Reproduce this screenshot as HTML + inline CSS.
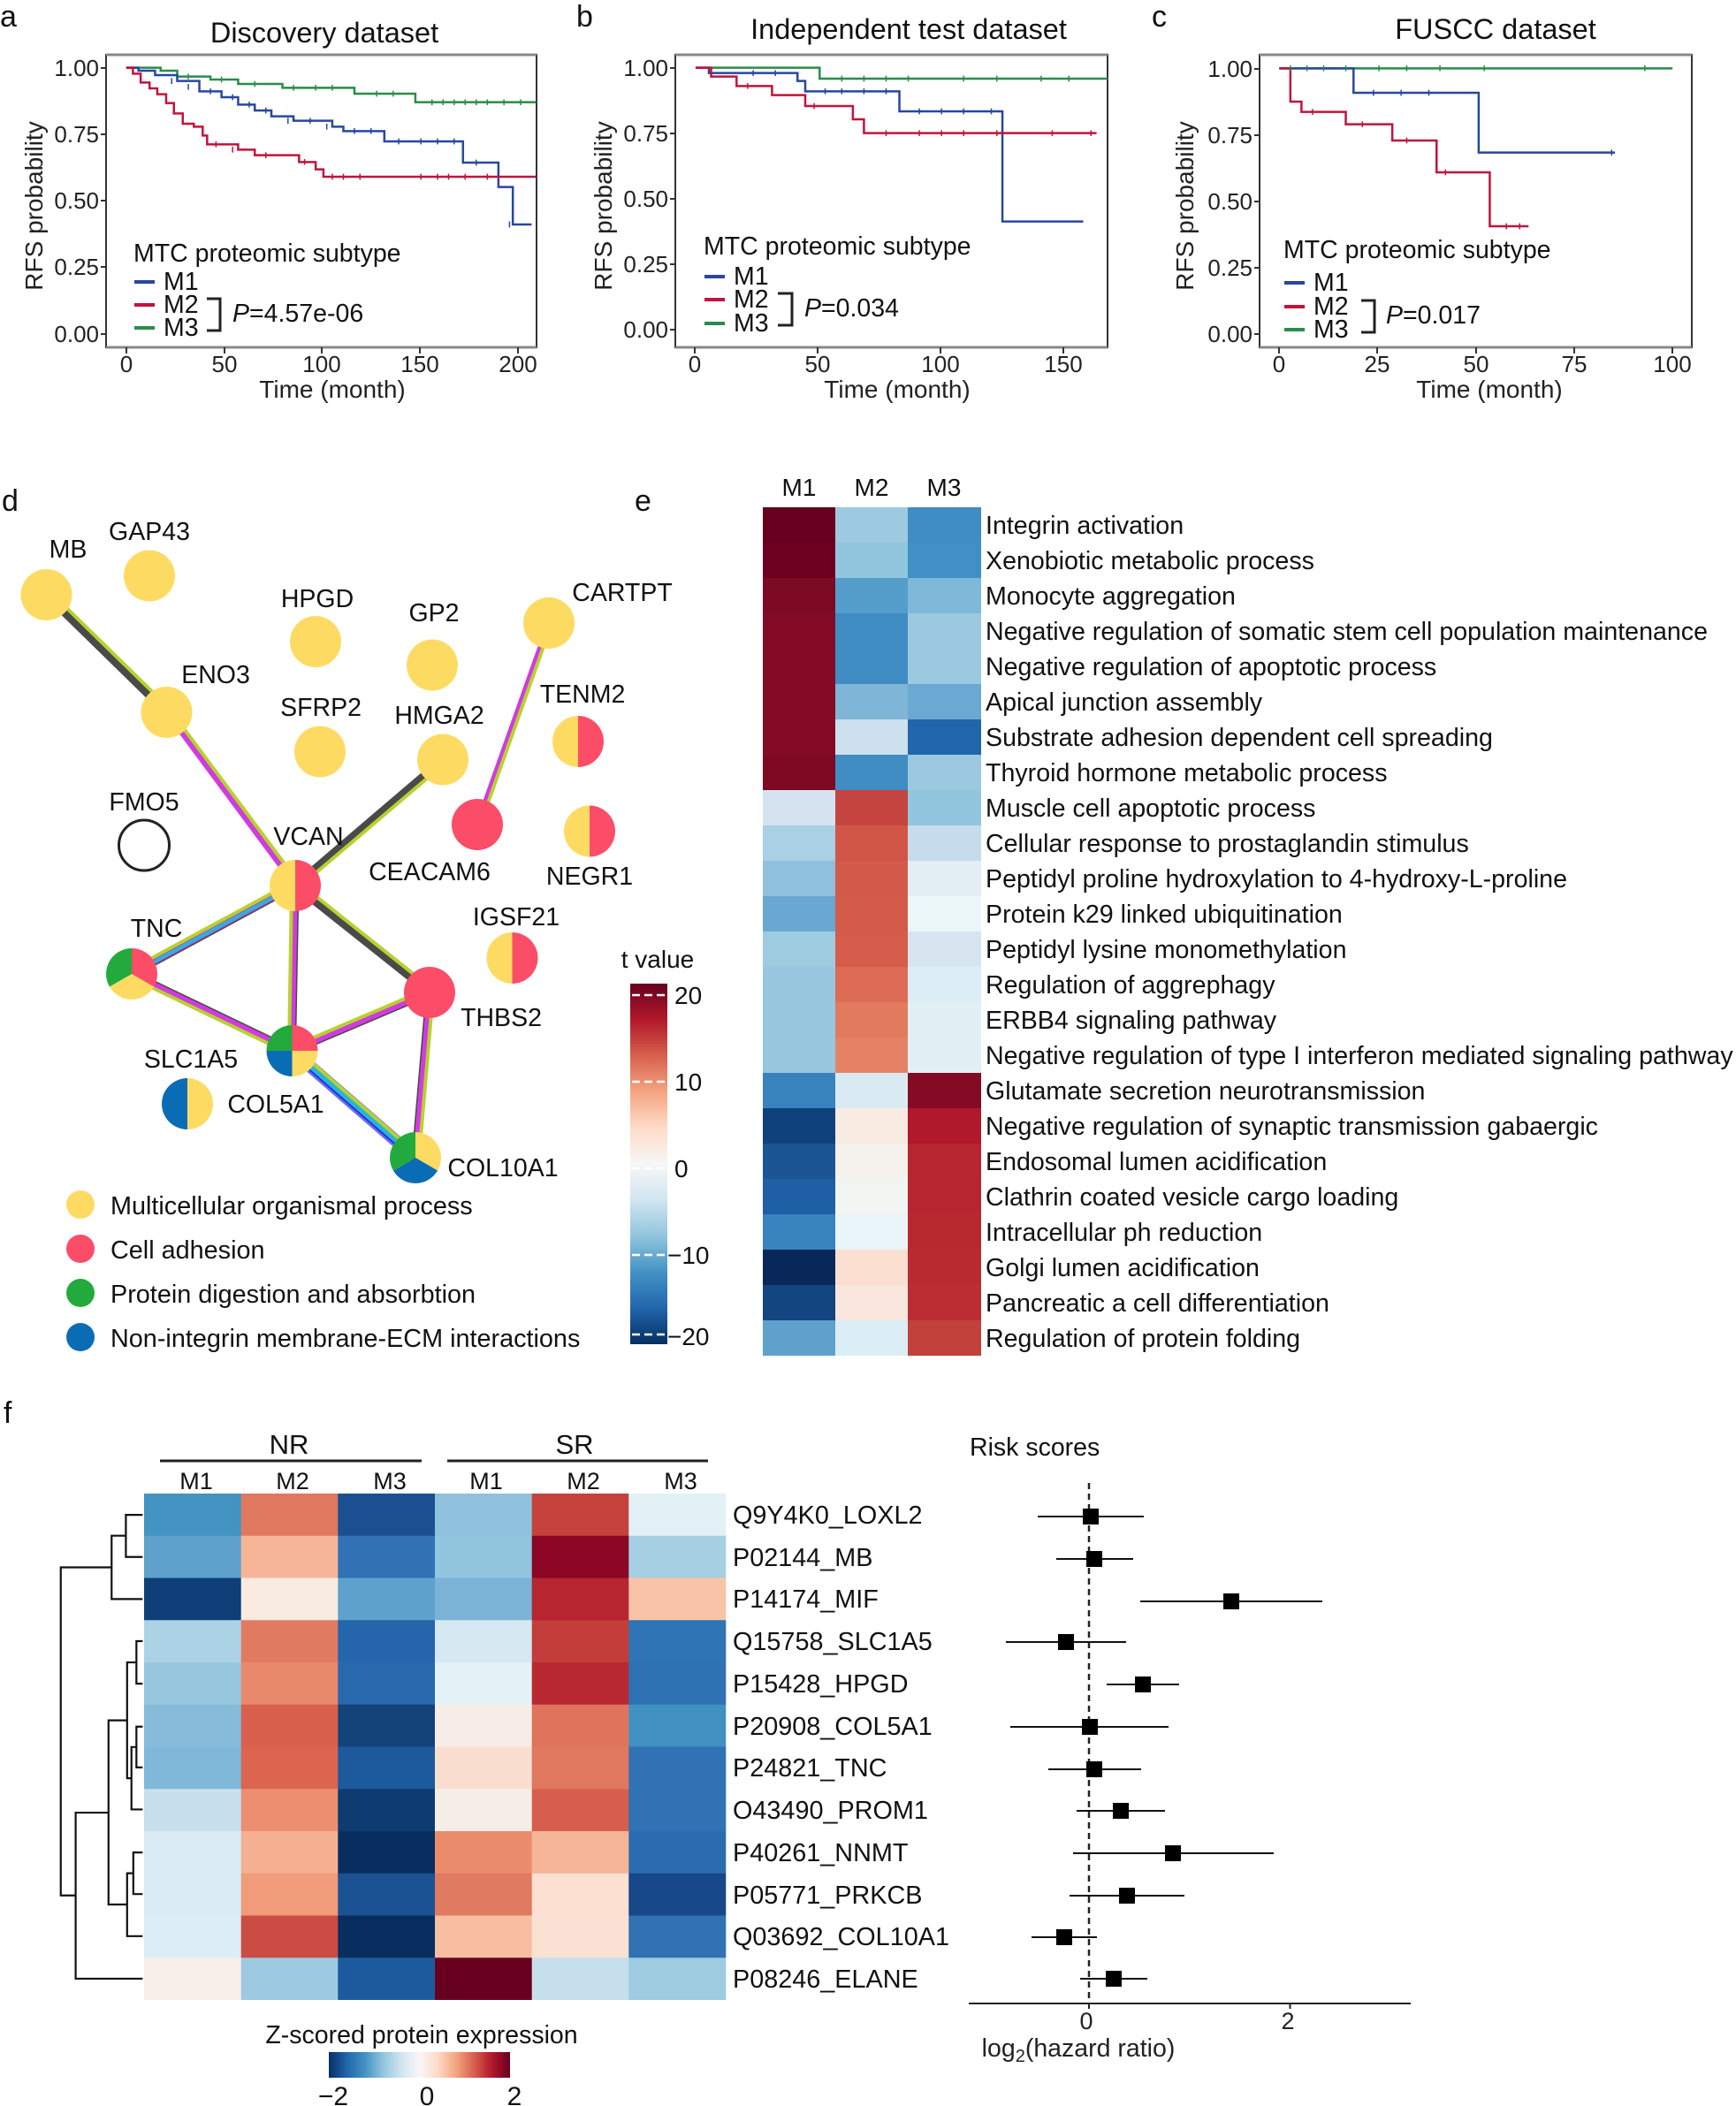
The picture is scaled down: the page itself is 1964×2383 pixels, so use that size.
<!DOCTYPE html>
<html><head><meta charset="utf-8">
<style>
html,body{margin:0;padding:0;background:#fff;}
svg{display:block;font-family:"Liberation Sans",Arial,sans-serif;}
</style></head>
<body>
<svg width="1964" height="2383" viewBox="0 0 1964 2383" xmlns="http://www.w3.org/2000/svg">
<rect width="1964" height="2383" fill="#fff"/>

<!-- ================= KM PANELS ================= -->
<g font-size="34" fill="#111">
<text x="0" y="30">a</text>
<text x="652" y="30">b</text>
<text x="1303" y="30">c</text>
</g>
<g font-size="32.5" text-anchor="middle" fill="#111">
<text x="367" y="48">Discovery dataset</text>
<text x="1028" y="44">Independent test dataset</text>
<text x="1692" y="44">FUSCC dataset</text>
</g>

<g fill="none" stroke="#333" stroke-width="2">
<rect x="120" y="62" width="487" height="331"/>
<rect x="764" y="62" width="489" height="331"/>
<rect x="1425" y="62" width="489" height="331"/>
</g>
<g stroke="#888" stroke-width="3">
<line x1="120" y1="62" x2="607" y2="62"/><line x1="120" y1="393" x2="607" y2="393"/>
<line x1="764" y1="62" x2="1253" y2="62"/><line x1="764" y1="393" x2="1253" y2="393"/>
<line x1="1425" y1="62" x2="1914" y2="62"/><line x1="1425" y1="393" x2="1914" y2="393"/>
</g>

<g transform="scale(1.2531,0.33333)" fill="none" stroke-width="2.5">
<path vector-effect="non-scaling-stroke" stroke="#2a8c4a" d="M114,230 H145 V240 H160 V260 H190 V270 H215 V285 H255 V298 H320 V318 H375 V347 H484"/>
<path vector-effect="non-scaling-stroke" stroke="#2747a0" d="M114,230 H125 V240 H140 V255 H160 V275 H180 V310 H200 V330 H215 V355 H230 V375 H245 V395 H265 V410 H300 V430 H310 V445 H347 V480 H418 V552 H450 V635 H463 V762 H480"/>
<path vector-effect="non-scaling-stroke" stroke="#c0143c" d="M114,230 H120 V250 H127 V280 H135 V300 H142 V320 H150 V350 H157 V385 H165 V420 H175 V430 H183 V460 H187 V490 H215 V508 H230 V527 H270 V550 H285 V575 H292 V600 H484"/>

<path vector-effect="non-scaling-stroke" stroke="#2a8c4a" d="M628,230 H740 V267 H1000"/>
<path vector-effect="non-scaling-stroke" stroke="#2747a0" d="M628,230 H640 V248 H720 V275 H727 V310 H812 V378 H905 V752 H978"/>
<path vector-effect="non-scaling-stroke" stroke="#c0143c" d="M628,230 H642 V260 H665 V292 H697 V323 H727 V360 H770 V405 H780 V452 H990"/>

<path vector-effect="non-scaling-stroke" stroke="#2a8c4a" d="M1155,232 H1510"/>
<path vector-effect="non-scaling-stroke" stroke="#2747a0" d="M1155,232 H1222 V315 H1335 V518 H1458"/>
<path vector-effect="non-scaling-stroke" stroke="#c0143c" d="M1155,232 H1165 V345 H1175 V380 H1215 V422 H1257 V477 H1297 V585 H1345 V768 H1380"/>

<g stroke="#2a8c4a" stroke-width="1.5">
<path vector-effect="non-scaling-stroke" d="M170,250v20M200,260v20M230,275v20M265,288v20M285,288v20M300,288v20M340,308v20M355,308v20M390,337v20M400,337v20M410,337v20M420,337v20M430,337v20M440,337v20M455,337v20M470,337v20"/>
<path vector-effect="non-scaling-stroke" d="M760,257v20M780,257v20M800,257v20M820,257v20M870,257v20M900,257v20M940,257v20M965,257v20"/>
<path vector-effect="non-scaling-stroke" d="M1165,222v20M1180,222v20M1195,222v20M1215,222v20M1245,222v20M1270,222v20M1300,222v20M1340,222v20M1485,222v20"/>
</g>
<g stroke="#2747a0" stroke-width="1.5">
<path vector-effect="non-scaling-stroke" d="M155,265v20M170,285v20M190,300v20M210,320v20M225,345v20M240,365v20M260,400v20M280,400v20M295,420v20M320,435v20M335,435v20M360,470v20M380,470v20M395,470v20M410,470v20M430,542v20M460,752v20"/>
<path vector-effect="non-scaling-stroke" d="M680,238v20M700,238v20M745,300v20M760,300v20M780,300v20M800,300v20M830,368v20M850,368v20M870,368v20M895,368v20"/>
<path vector-effect="non-scaling-stroke" d="M1240,305v20M1265,305v20M1290,305v20M1455,508v20"/>
</g>
<g stroke="#c0143c" stroke-width="1.5">
<path vector-effect="non-scaling-stroke" d="M195,480v20M210,498v20M240,517v20M275,540v20M300,590v20M310,590v20M325,590v20M380,590v20M395,590v20M405,590v20M420,590v20M440,590v20"/>
<path vector-effect="non-scaling-stroke" d="M675,282v20M735,350v20M800,442v20M830,442v20M850,442v20M870,442v20M900,442v20M950,442v20M985,442v20"/>
<path vector-effect="non-scaling-stroke" d="M1185,370v20M1230,412v20M1270,467v20M1305,575v20M1360,758v20M1372,758v20"/>
</g>
</g>

<g stroke="#333" stroke-width="2">
<path d="M114,77H120M114,152H120M114,227H120M114,302H120M114,378H120"/>
<path d="M758,77H764M758,151H764M758,225H764M758,299H764M758,373H764"/>
<path d="M1419,78H1425M1419,153H1425M1419,228H1425M1419,303H1425M1419,378H1425"/>
<path d="M143,393V400M254,393V400M364,393V400M475,393V400M586,393V400"/>
<path d="M786,393V400M925,393V400M1064,393V400M1203,393V400"/>
<path d="M1447,393V400M1558,393V400M1670,393V400M1781,393V400M1892,393V400"/>
</g>
<g font-size="26" fill="#222" text-anchor="end">
<text x="112" y="86">1.00</text><text x="112" y="161">0.75</text><text x="112" y="236">0.50</text><text x="112" y="311">0.25</text><text x="112" y="387">0.00</text>
<text x="756" y="86">1.00</text><text x="756" y="160">0.75</text><text x="756" y="234">0.50</text><text x="756" y="308">0.25</text><text x="756" y="382">0.00</text>
<text x="1417" y="87">1.00</text><text x="1417" y="162">0.75</text><text x="1417" y="237">0.50</text><text x="1417" y="312">0.25</text><text x="1417" y="387">0.00</text>
</g>
<g font-size="26" fill="#222" text-anchor="middle">
<text x="143" y="421">0</text><text x="254" y="421">50</text><text x="364" y="421">100</text><text x="475" y="421">150</text><text x="586" y="421">200</text>
<text x="786" y="421">0</text><text x="925" y="421">50</text><text x="1064" y="421">100</text><text x="1203" y="421">150</text>
<text x="1447" y="421">0</text><text x="1558" y="421">25</text><text x="1670" y="421">50</text><text x="1781" y="421">75</text><text x="1892" y="421">100</text>
</g>
<g font-size="28" fill="#222" text-anchor="middle">
<text x="376" y="450">Time (month)</text><text x="1015" y="450">Time (month)</text><text x="1685" y="450">Time (month)</text>
<text transform="translate(48,233) rotate(-90)">RFS probability</text>
<text transform="translate(692,233) rotate(-90)">RFS probability</text>
<text transform="translate(1350,233) rotate(-90)">RFS probability</text>
</g>

<g font-size="28.5" fill="#111">
<text x="151" y="296">MTC proteomic subtype</text>
<text x="185" y="328">M1</text><text x="185" y="354">M2</text><text x="185" y="380">M3</text>
<text x="263" y="364"><tspan font-style="italic">P</tspan>=4.57e-06</text>
<text x="796" y="288">MTC proteomic subtype</text>
<text x="830" y="322">M1</text><text x="830" y="348">M2</text><text x="830" y="375">M3</text>
<text x="910" y="358"><tspan font-style="italic">P</tspan>=0.034</text>
<text x="1452" y="292">MTC proteomic subtype</text>
<text x="1486" y="329">M1</text><text x="1486" y="356">M2</text><text x="1486" y="382">M3</text>
<text x="1568" y="366"><tspan font-style="italic">P</tspan>=0.017</text>
</g>
<g stroke-width="4">
<line x1="152" y1="319" x2="175" y2="319" stroke="#2747a0"/><line x1="152" y1="345" x2="175" y2="345" stroke="#c0143c"/><line x1="152" y1="371" x2="175" y2="371" stroke="#2a8c4a"/>
<line x1="797" y1="313" x2="820" y2="313" stroke="#2747a0"/><line x1="797" y1="339" x2="820" y2="339" stroke="#c0143c"/><line x1="797" y1="366" x2="820" y2="366" stroke="#2a8c4a"/>
<line x1="1453" y1="320" x2="1476" y2="320" stroke="#2747a0"/><line x1="1453" y1="347" x2="1476" y2="347" stroke="#c0143c"/><line x1="1453" y1="373" x2="1476" y2="373" stroke="#2a8c4a"/>
</g>
<g fill="none" stroke="#222" stroke-width="3">
<path d="M234,338H249V374H234"/>
<path d="M880,332H896V368H880"/>
<path d="M1540,340H1555V376H1540"/>
</g>

<!-- ================= PANEL D ================= -->
<text x="2" y="578" font-size="34" fill="#111">d</text>
<text x="718" y="578" font-size="34" fill="#111">e</text>

<g stroke-linecap="round">
<g stroke="#4a4a4a" stroke-width="9">
<line x1="52.5" y1="673" x2="188.5" y2="806"/>
<line x1="501" y1="859.5" x2="334" y2="1002"/>
<line x1="334" y1="1002" x2="149" y2="1102"/>
<line x1="334" y1="1002" x2="330.5" y2="1189"/>
<line x1="334" y1="1002" x2="486" y2="1123"/>
<line x1="149" y1="1102" x2="330.5" y2="1189"/>
<line x1="330.5" y1="1189" x2="486" y2="1123"/>
<line x1="486" y1="1123" x2="470" y2="1310"/>
</g>
<line x1="330.5" y1="1189" x2="470" y2="1310" stroke="#6e6ef0" stroke-width="14"/>
<line x1="330.5" y1="1189" x2="470" y2="1310" stroke="#2233dd" stroke-width="9"/>
<line x1="330.5" y1="1189" x2="470" y2="1310" stroke="#28b4d8" stroke-width="5"/>
<g stroke="#d03be0" stroke-width="6">
<line x1="188.5" y1="806" x2="334" y2="1002"/>
<line x1="621" y1="705" x2="540" y2="933"/>
<line x1="334" y1="1002" x2="149" y2="1102"/>
<line x1="334" y1="1002" x2="330.5" y2="1189"/>
<line x1="149" y1="1102" x2="330.5" y2="1189"/>
<line x1="330.5" y1="1189" x2="486" y2="1123"/>
<line x1="486" y1="1123" x2="470" y2="1310"/>
</g>
<line x1="334" y1="1002" x2="149" y2="1102" stroke="#28b4d8" stroke-width="4"/>
<g stroke="#b8d12e" stroke-width="4">
<line x1="56" y1="669" x2="192" y2="802"/>
<line x1="192" y1="803" x2="338" y2="999"/>
<line x1="504" y1="863" x2="337" y2="1005"/>
<line x1="624" y1="706" x2="543" y2="934"/>
<line x1="331" y1="998" x2="146" y2="1098"/>
<line x1="330" y1="1002" x2="327" y2="1189"/>
<line x1="337" y1="998" x2="489" y2="1119"/>
<line x1="148" y1="1106" x2="329" y2="1193"/>
<line x1="329" y1="1185" x2="484" y2="1119"/>
<line x1="490" y1="1123" x2="474" y2="1310"/>
<line x1="334" y1="1186" x2="473" y2="1307"/>
</g>
</g>

<g fill="#fddb63">
<circle cx="52.5" cy="673" r="29"/>
<circle cx="169" cy="651.5" r="29"/>
<circle cx="357" cy="726" r="29"/>
<circle cx="489" cy="752.5" r="29"/>
<circle cx="621" cy="705" r="29"/>
<circle cx="188.5" cy="806" r="29"/>
<circle cx="362" cy="850.5" r="29"/>
<circle cx="501" cy="859.5" r="29"/>
</g>
<circle cx="163" cy="956.5" r="28.5" fill="none" stroke="#222" stroke-width="3"/>
<circle cx="540" cy="933" r="29" fill="#fc4d68"/>
<circle cx="486" cy="1123" r="29" fill="#fc4d68"/>
<g>
<path d="M654,810 A29,29 0 0 0 654,868 Z" fill="#fddb63"/><path d="M654,810 A29,29 0 0 1 654,868 Z" fill="#fc4d68"/>
<path d="M667,911.5 A29,29 0 0 0 667,969.5 Z" fill="#fddb63"/><path d="M667,911.5 A29,29 0 0 1 667,969.5 Z" fill="#fc4d68"/>
<path d="M579.5,1055 A29,29 0 0 0 579.5,1113 Z" fill="#fddb63"/><path d="M579.5,1055 A29,29 0 0 1 579.5,1113 Z" fill="#fc4d68"/>
<path d="M334,973 A29,29 0 0 0 334,1031 Z" fill="#fddb63"/><path d="M334,973 A29,29 0 0 1 334,1031 Z" fill="#fc4d68"/>
<path d="M212,1220 A29,29 0 0 0 212,1278 Z" fill="#0b6cb6"/><path d="M212,1220 A29,29 0 0 1 212,1278 Z" fill="#fddb63"/>
</g>
<path d="M149,1102 L149,1073 A29,29 0 0 1 174.1,1116.5 Z" fill="#fc4d68"/>
<path d="M149,1102 L174.1,1116.5 A29,29 0 0 1 123.9,1116.5 Z" fill="#fddb63"/>
<path d="M149,1102 L123.9,1116.5 A29,29 0 0 1 149,1073 Z" fill="#22ab3c"/>
<path d="M470,1310 L470,1281 A29,29 0 0 1 495.1,1324.5 Z" fill="#fddb63"/>
<path d="M470,1310 L495.1,1324.5 A29,29 0 0 1 444.9,1324.5 Z" fill="#0b6cb6"/>
<path d="M470,1310 L444.9,1324.5 A29,29 0 0 1 470,1281 Z" fill="#22ab3c"/>
<path d="M330.5,1189 L301.5,1189 A29,29 0 0 1 330.5,1160 Z" fill="#22ab3c"/>
<path d="M330.5,1189 L330.5,1160 A29,29 0 0 1 359.5,1189 Z" fill="#fc4d68"/>
<path d="M330.5,1189 L359.5,1189 A29,29 0 0 1 330.5,1218 Z" fill="#fddb63"/>
<path d="M330.5,1189 L330.5,1218 A29,29 0 0 1 301.5,1189 Z" fill="#0b6cb6"/>

<g font-size="28.5" fill="#111" text-anchor="middle">
<text x="77" y="631">MB</text>
<text x="169" y="611">GAP43</text>
<text x="359" y="687">HPGD</text>
<text x="491" y="703">GP2</text>
<text x="704" y="680">CARTPT</text>
<text x="244" y="773">ENO3</text>
<text x="363" y="810">SFRP2</text>
<text x="497" y="819">HMGA2</text>
<text x="659" y="795">TENM2</text>
<text x="163" y="917">FMO5</text>
<text x="486" y="996">CEACAM6</text>
<text x="667" y="1001">NEGR1</text>
<text x="349" y="956">VCAN</text>
<text x="584" y="1047">IGSF21</text>
<text x="177" y="1060">TNC</text>
<text x="567" y="1161">THBS2</text>
<text x="216" y="1208">SLC1A5</text>
<text x="312" y="1259">COL5A1</text>
<text x="569" y="1331">COL10A1</text>
</g>

<circle cx="91" cy="1363" r="16" fill="#fddb63"/>
<circle cx="91" cy="1413" r="16" fill="#fc4d68"/>
<circle cx="91" cy="1463" r="16" fill="#22ab3c"/>
<circle cx="91" cy="1513" r="16" fill="#0b6cb6"/>
<g font-size="28.8" fill="#111">
<text x="125" y="1374">Multicellular organismal process</text>
<text x="125" y="1424">Cell adhesion</text>
<text x="125" y="1474">Protein digestion and absorbtion</text>
<text x="125" y="1524">Non-integrin membrane-ECM interactions</text>
</g>

<defs>
<linearGradient id="rdbuV" x1="0" y1="0" x2="0" y2="1">
<stop offset="0" stop-color="#67001f"/><stop offset="0.1" stop-color="#b2182b"/><stop offset="0.2" stop-color="#d6604d"/><stop offset="0.3" stop-color="#f4a582"/><stop offset="0.4" stop-color="#fddbc7"/><stop offset="0.5" stop-color="#f7f7f7"/><stop offset="0.6" stop-color="#d1e5f0"/><stop offset="0.7" stop-color="#92c5de"/><stop offset="0.8" stop-color="#4393c3"/><stop offset="0.9" stop-color="#2166ac"/><stop offset="1" stop-color="#053061"/>
</linearGradient>
<linearGradient id="rdbuH" x1="0" y1="0" x2="1" y2="0">
<stop offset="0" stop-color="#053061"/><stop offset="0.1" stop-color="#2166ac"/><stop offset="0.2" stop-color="#4393c3"/><stop offset="0.3" stop-color="#92c5de"/><stop offset="0.4" stop-color="#d1e5f0"/><stop offset="0.5" stop-color="#f7f7f7"/><stop offset="0.6" stop-color="#fddbc7"/><stop offset="0.7" stop-color="#f4a582"/><stop offset="0.8" stop-color="#d6604d"/><stop offset="0.9" stop-color="#b2182b"/><stop offset="1" stop-color="#67001f"/>
</linearGradient>
</defs>
<text x="744" y="1095" font-size="28" text-anchor="middle" fill="#111">t value</text>
<rect x="713" y="1113" width="42" height="408" fill="url(#rdbuV)"/>
<g stroke="#fff" stroke-width="2.5" stroke-dasharray="9,5">
<line x1="715" y1="1126" x2="753" y2="1126"/><line x1="715" y1="1224" x2="753" y2="1224"/><line x1="715" y1="1322" x2="753" y2="1322"/><line x1="715" y1="1420" x2="753" y2="1420"/><line x1="715" y1="1510" x2="753" y2="1510"/>
</g>
<g font-size="28" fill="#111">
<text x="763" y="1136">20</text><text x="763" y="1234">10</text><text x="763" y="1332">0</text><text x="755" y="1430">−10</text><text x="755" y="1522">−20</text>
</g>

<!-- ================= PANEL E ================= -->
<g font-size="28" fill="#111" text-anchor="middle">
<text x="904" y="561">M1</text><text x="986" y="561">M2</text><text x="1068" y="561">M3</text>
</g>
<g>
<rect x="863" y="574" width="82" height="40" fill="#67001f"/><rect x="945" y="574" width="82" height="40" fill="#9ecae1"/><rect x="1027" y="574" width="83" height="40" fill="#3f8dc3"/>
<rect x="863" y="614" width="82" height="40" fill="#6d0022"/><rect x="945" y="614" width="82" height="40" fill="#92c5de"/><rect x="1027" y="614" width="83" height="40" fill="#4090c5"/>
<rect x="863" y="654" width="82" height="40" fill="#7d0a25"/><rect x="945" y="654" width="82" height="40" fill="#559ecb"/><rect x="1027" y="654" width="83" height="40" fill="#80b8d9"/>
<rect x="863" y="694" width="82" height="40" fill="#830a25"/><rect x="945" y="694" width="82" height="40" fill="#3f8dc3"/><rect x="1027" y="694" width="83" height="40" fill="#9cc9e0"/>
<rect x="863" y="734" width="82" height="40" fill="#840b26"/><rect x="945" y="734" width="82" height="40" fill="#3f8dc3"/><rect x="1027" y="734" width="83" height="40" fill="#9cc9e0"/>
<rect x="863" y="774" width="82" height="40" fill="#840b26"/><rect x="945" y="774" width="82" height="40" fill="#7fb5d6"/><rect x="1027" y="774" width="83" height="40" fill="#6aa9d2"/>
<rect x="863" y="814" width="82" height="40" fill="#840b26"/><rect x="945" y="814" width="82" height="40" fill="#cde0ed"/><rect x="1027" y="814" width="83" height="40" fill="#2166ac"/>
<rect x="863" y="854" width="82" height="40" fill="#7f0823"/><rect x="945" y="854" width="82" height="40" fill="#3f8dc3"/><rect x="1027" y="854" width="83" height="40" fill="#9cc9e0"/>
<rect x="863" y="894" width="82" height="40" fill="#d4e3ef"/><rect x="945" y="894" width="82" height="40" fill="#c6443f"/><rect x="1027" y="894" width="83" height="40" fill="#92c5de"/>
<rect x="863" y="934" width="82" height="40" fill="#a9d0e4"/><rect x="945" y="934" width="82" height="40" fill="#d25648"/><rect x="1027" y="934" width="83" height="40" fill="#c6dcec"/>
<rect x="863" y="974" width="82" height="40" fill="#8fc0dc"/><rect x="945" y="974" width="82" height="40" fill="#d35a4a"/><rect x="1027" y="974" width="83" height="40" fill="#e3eef5"/>
<rect x="863" y="1014" width="82" height="40" fill="#68a8d1"/><rect x="945" y="1014" width="82" height="40" fill="#d45b4a"/><rect x="1027" y="1014" width="83" height="40" fill="#eaf6f8"/>
<rect x="863" y="1054" width="82" height="40" fill="#9fcbe1"/><rect x="945" y="1054" width="82" height="40" fill="#d55c4b"/><rect x="1027" y="1054" width="83" height="40" fill="#d6e5f0"/>
<rect x="863" y="1094" width="82" height="40" fill="#98c6df"/><rect x="945" y="1094" width="82" height="40" fill="#dd6b55"/><rect x="1027" y="1094" width="83" height="40" fill="#dcedf5"/>
<rect x="863" y="1134" width="82" height="40" fill="#98c6df"/><rect x="945" y="1134" width="82" height="40" fill="#e27a5e"/><rect x="1027" y="1134" width="83" height="40" fill="#e2f0f6"/>
<rect x="863" y="1174" width="82" height="40" fill="#98c6df"/><rect x="945" y="1174" width="82" height="40" fill="#e58266"/><rect x="1027" y="1174" width="83" height="40" fill="#e2f0f6"/>
<rect x="863" y="1214" width="82" height="40" fill="#3883be"/><rect x="945" y="1214" width="82" height="40" fill="#d9eaf2"/><rect x="1027" y="1214" width="83" height="40" fill="#850a24"/>
<rect x="863" y="1254" width="82" height="40" fill="#0f417a"/><rect x="945" y="1254" width="82" height="40" fill="#f7ebe2"/><rect x="1027" y="1254" width="83" height="40" fill="#b0182b"/>
<rect x="863" y="1294" width="82" height="40" fill="#1c5594"/><rect x="945" y="1294" width="82" height="40" fill="#f5f1ec"/><rect x="1027" y="1294" width="83" height="40" fill="#b62530"/>
<rect x="863" y="1334" width="82" height="40" fill="#1f5fa5"/><rect x="945" y="1334" width="82" height="40" fill="#f1f4f0"/><rect x="1027" y="1334" width="83" height="40" fill="#b72630"/>
<rect x="863" y="1374" width="82" height="40" fill="#3882be"/><rect x="945" y="1374" width="82" height="40" fill="#e9f5f9"/><rect x="1027" y="1374" width="83" height="40" fill="#b8292f"/>
<rect x="863" y="1414" width="82" height="40" fill="#08285a"/><rect x="945" y="1414" width="82" height="40" fill="#fbdfd0"/><rect x="1027" y="1414" width="83" height="40" fill="#b92b30"/>
<rect x="863" y="1454" width="82" height="40" fill="#134580"/><rect x="945" y="1454" width="82" height="40" fill="#f9e6dc"/><rect x="1027" y="1454" width="83" height="40" fill="#bb2d33"/>
<rect x="863" y="1494" width="82" height="40" fill="#5fa1cc"/><rect x="945" y="1494" width="82" height="40" fill="#dceef5"/><rect x="1027" y="1494" width="83" height="40" fill="#c2413b"/>
</g>
<g font-size="28.6" fill="#111">
<text x="1115" y="604">Integrin activation</text>
<text x="1115" y="644">Xenobiotic metabolic process</text>
<text x="1115" y="684">Monocyte aggregation</text>
<text x="1115" y="724">Negative regulation of somatic stem cell population maintenance</text>
<text x="1115" y="764">Negative regulation of apoptotic process</text>
<text x="1115" y="804">Apical junction assembly</text>
<text x="1115" y="844">Substrate adhesion dependent cell spreading</text>
<text x="1115" y="884">Thyroid hormone metabolic process</text>
<text x="1115" y="924">Muscle cell apoptotic process</text>
<text x="1115" y="964">Cellular response to prostaglandin stimulus</text>
<text x="1115" y="1004">Peptidyl proline hydroxylation to 4-hydroxy-L-proline</text>
<text x="1115" y="1044">Protein k29 linked ubiquitination</text>
<text x="1115" y="1084">Peptidyl lysine monomethylation</text>
<text x="1115" y="1124">Regulation of aggrephagy</text>
<text x="1115" y="1164">ERBB4 signaling pathway</text>
<text x="1115" y="1204">Negative regulation of type I interferon mediated signaling pathway</text>
<text x="1115" y="1244">Glutamate secretion neurotransmission</text>
<text x="1115" y="1284">Negative regulation of synaptic transmission gabaergic</text>
<text x="1115" y="1324">Endosomal lumen acidification</text>
<text x="1115" y="1364">Clathrin coated vesicle cargo loading</text>
<text x="1115" y="1404">Intracellular ph reduction</text>
<text x="1115" y="1444">Golgi lumen acidification</text>
<text x="1115" y="1484">Pancreatic a cell differentiation</text>
<text x="1115" y="1524">Regulation of protein folding</text>
</g>

<!-- ================= PANEL F ================= -->
<text x="4" y="1610" font-size="34" fill="#111">f</text>
<g font-size="31" fill="#111" text-anchor="middle">
<text x="327" y="1645">NR</text><text x="650" y="1645">SR</text>
</g>
<g stroke="#222" stroke-width="3">
<line x1="181" y1="1653" x2="477" y2="1653"/><line x1="506" y1="1653" x2="801" y2="1653"/>
</g>
<g font-size="27" fill="#111" text-anchor="middle">
<text x="222" y="1685">M1</text><text x="331" y="1685">M2</text><text x="441" y="1685">M3</text>
<text x="550" y="1685">M1</text><text x="660" y="1685">M2</text><text x="770" y="1685">M3</text>
</g>
<g transform="translate(0,1690)">
<g transform="translate(0,0)"><rect x="163" width="110" height="48" fill="#4393c3"/><rect x="272.7" width="110" height="48" fill="#e0785f"/><rect x="382.3" width="110" height="48" fill="#1a5091"/><rect x="492" width="110" height="48" fill="#8fc0dc"/><rect x="601.7" width="110" height="48" fill="#c5413c"/><rect x="711.3" width="110" height="48" fill="#e2f1f6"/></g>
<g transform="translate(0,47.75)"><rect x="163" width="110" height="48" fill="#5ea1cc"/><rect x="272.7" width="110" height="48" fill="#f6b597"/><rect x="382.3" width="110" height="48" fill="#3072b3"/><rect x="492" width="110" height="48" fill="#92c5de"/><rect x="601.7" width="110" height="48" fill="#8a0624"/><rect x="711.3" width="110" height="48" fill="#a7cfe4"/></g>
<g transform="translate(0,95.5)"><rect x="163" width="110" height="48" fill="#0e3f78"/><rect x="272.7" width="110" height="48" fill="#f9ebe2"/><rect x="382.3" width="110" height="48" fill="#5ea1cc"/><rect x="492" width="110" height="48" fill="#7ab3d6"/><rect x="601.7" width="110" height="48" fill="#b62530"/><rect x="711.3" width="110" height="48" fill="#f9c3a8"/></g>
<g transform="translate(0,143.25)"><rect x="163" width="110" height="48" fill="#acd2e5"/><rect x="272.7" width="110" height="48" fill="#e07b61"/><rect x="382.3" width="110" height="48" fill="#2565ab"/><rect x="492" width="110" height="48" fill="#d6e8f1"/><rect x="601.7" width="110" height="48" fill="#c33d3b"/><rect x="711.3" width="110" height="48" fill="#2f74b4"/></g>
<g transform="translate(0,191)"><rect x="163" width="110" height="48" fill="#96c7df"/><rect x="272.7" width="110" height="48" fill="#e9896b"/><rect x="382.3" width="110" height="48" fill="#2868ad"/><rect x="492" width="110" height="48" fill="#e3f2f7"/><rect x="601.7" width="110" height="48" fill="#b82830"/><rect x="711.3" width="110" height="48" fill="#2e72b3"/></g>
<g transform="translate(0,238.75)"><rect x="163" width="110" height="48" fill="#86bbda"/><rect x="272.7" width="110" height="48" fill="#d8604d"/><rect x="382.3" width="110" height="48" fill="#124379"/><rect x="492" width="110" height="48" fill="#f7ede6"/><rect x="601.7" width="110" height="48" fill="#e0735c"/><rect x="711.3" width="110" height="48" fill="#4190c2"/></g>
<g transform="translate(0,286.5)"><rect x="163" width="110" height="48" fill="#80b8d9"/><rect x="272.7" width="110" height="48" fill="#db654f"/><rect x="382.3" width="110" height="48" fill="#1c5a9d"/><rect x="492" width="110" height="48" fill="#fadfd1"/><rect x="601.7" width="110" height="48" fill="#e0775f"/><rect x="711.3" width="110" height="48" fill="#3072b3"/></g>
<g transform="translate(0,334.25)"><rect x="163" width="110" height="48" fill="#c8dfed"/><rect x="272.7" width="110" height="48" fill="#ec8f71"/><rect x="382.3" width="110" height="48" fill="#0e3b70"/><rect x="492" width="110" height="48" fill="#f7eee8"/><rect x="601.7" width="110" height="48" fill="#d75e4c"/><rect x="711.3" width="110" height="48" fill="#3072b3"/></g>
<g transform="translate(0,382)"><rect x="163" width="110" height="48" fill="#dbebf3"/><rect x="272.7" width="110" height="48" fill="#f4b091"/><rect x="382.3" width="110" height="48" fill="#082e60"/><rect x="492" width="110" height="48" fill="#ea8b6c"/><rect x="601.7" width="110" height="48" fill="#f5b698"/><rect x="711.3" width="110" height="48" fill="#2b6cb0"/></g>
<g transform="translate(0,429.75)"><rect x="163" width="110" height="48" fill="#dbebf3"/><rect x="272.7" width="110" height="48" fill="#f09b7a"/><rect x="382.3" width="110" height="48" fill="#1a5293"/><rect x="492" width="110" height="48" fill="#e07a60"/><rect x="601.7" width="110" height="48" fill="#fce0d2"/><rect x="711.3" width="110" height="48" fill="#16488a"/></g>
<g transform="translate(0,477.5)"><rect x="163" width="110" height="48" fill="#dcedf5"/><rect x="272.7" width="110" height="48" fill="#cb4c43"/><rect x="382.3" width="110" height="48" fill="#072e5e"/><rect x="492" width="110" height="48" fill="#f7bea1"/><rect x="601.7" width="110" height="48" fill="#fbe1d3"/><rect x="711.3" width="110" height="48" fill="#3072b3"/></g>
<g transform="translate(0,525.25)"><rect x="163" width="110" height="47.75" fill="#f8efe8"/><rect x="272.7" width="110" height="47.75" fill="#9ecae1"/><rect x="382.3" width="110" height="47.75" fill="#1c5a9d"/><rect x="492" width="110" height="47.75" fill="#67001f"/><rect x="601.7" width="110" height="47.75" fill="#c6dfec"/><rect x="711.3" width="110" height="47.75" fill="#9fcbe1"/></g>
</g>
<g font-size="28.8" fill="#111">
<text x="829" y="1724">Q9Y4K0_LOXL2</text>
<text x="829" y="1772">P02144_MB</text>
<text x="829" y="1819">P14174_MIF</text>
<text x="829" y="1867">Q15758_SLC1A5</text>
<text x="829" y="1915">P15428_HPGD</text>
<text x="829" y="1963">P20908_COL5A1</text>
<text x="829" y="2010">P24821_TNC</text>
<text x="829" y="2058">O43490_PROM1</text>
<text x="829" y="2106">P40261_NNMT</text>
<text x="829" y="2154">P05771_PRKCB</text>
<text x="829" y="2201">Q03692_COL10A1</text>
<text x="829" y="2249">P08246_ELANE</text>
</g>
<g transform="translate(0,1580) scale(0.7015,0.512)" fill="none" stroke="#111" stroke-width="2.2">
<path vector-effect="non-scaling-stroke" d="M230,262 H203 V355 H230"/>
<path vector-effect="non-scaling-stroke" d="M203,308 H180 V448 H230"/>
<path vector-effect="non-scaling-stroke" d="M230,541 H220 V635 H230"/>
<path vector-effect="non-scaling-stroke" d="M230,730 H220 V820 H230"/>
<path vector-effect="non-scaling-stroke" d="M220,775 H212 V913 H230"/>
<path vector-effect="non-scaling-stroke" d="M220,588 H205 V844 H212"/>
<path vector-effect="non-scaling-stroke" d="M230,1008 H215 V1100 H230"/>
<path vector-effect="non-scaling-stroke" d="M215,1054 H205 V1193 H230"/>
<path vector-effect="non-scaling-stroke" d="M205,716 H175 V1123 H205"/>
<path vector-effect="non-scaling-stroke" d="M175,920 H122 V1287 H230"/>
<path vector-effect="non-scaling-stroke" d="M180,378 H98 V1103 H122"/>
</g>
<text x="477" y="2312" font-size="28.5" text-anchor="middle" fill="#111">Z-scored protein expression</text>
<rect x="372" y="2322" width="205" height="29" fill="url(#rdbuH)"/>
<g font-size="30" fill="#111" text-anchor="middle">
<text x="377" y="2382">−2</text><text x="483" y="2382">0</text><text x="582" y="2382">2</text>
</g>

<text x="1097" y="1647" font-size="28.5" fill="#111">Risk scores</text>
<line x1="1232" y1="1678" x2="1232" y2="2267" stroke="#222" stroke-width="2.5" stroke-dasharray="7,5"/>
<line x1="1096" y1="2267" x2="1596" y2="2267" stroke="#222" stroke-width="2"/>
<path d="M1232,2267v6M1459.5,2267v6" stroke="#222" stroke-width="2"/>
<g font-size="27" fill="#222" text-anchor="middle">
<text x="1229" y="2296">0</text><text x="1457" y="2296">2</text>
</g>
<text x="1220" y="2327" font-size="28.5" fill="#222" text-anchor="middle">log<tspan font-size="20" dy="6">2</tspan><tspan dy="-6">(hazard ratio)</tspan></text>
<g stroke="#111" stroke-width="2">
<line x1="1174" y1="1716" x2="1294" y2="1716"/>
<line x1="1195" y1="1764" x2="1282" y2="1764"/>
<line x1="1290" y1="1812" x2="1496" y2="1812"/>
<line x1="1138" y1="1858" x2="1274" y2="1858"/>
<line x1="1252" y1="1906" x2="1334" y2="1906"/>
<line x1="1143" y1="1954" x2="1322" y2="1954"/>
<line x1="1186" y1="2002" x2="1291" y2="2002"/>
<line x1="1218" y1="2049" x2="1318" y2="2049"/>
<line x1="1214" y1="2097" x2="1441" y2="2097"/>
<line x1="1210" y1="2145" x2="1340" y2="2145"/>
<line x1="1167" y1="2192" x2="1241" y2="2192"/>
<line x1="1222" y1="2239" x2="1298" y2="2239"/>
</g>
<g fill="#000">
<rect x="1225" y="1707" width="18" height="18"/>
<rect x="1229" y="1755" width="18" height="18"/>
<rect x="1384" y="1803" width="18" height="18"/>
<rect x="1197" y="1849" width="18" height="18"/>
<rect x="1284" y="1897" width="18" height="18"/>
<rect x="1224" y="1945" width="18" height="18"/>
<rect x="1229" y="1993" width="18" height="18"/>
<rect x="1259" y="2040" width="18" height="18"/>
<rect x="1318" y="2088" width="18" height="18"/>
<rect x="1266" y="2136" width="18" height="18"/>
<rect x="1195" y="2183" width="18" height="18"/>
<rect x="1251" y="2230" width="18" height="18"/>
</g>
</svg>
</body></html>
